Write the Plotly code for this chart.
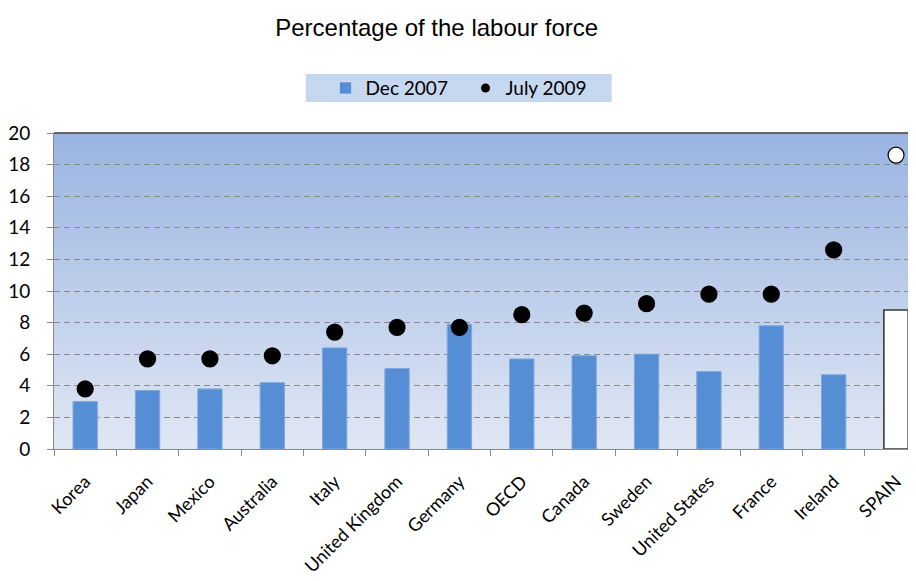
import plotly.graph_objects as go

countries = ["Korea", "Japan", "Mexico", "Australia", "Italy", "United Kingdom", "Germany",
             "OECD", "Canada", "Sweden", "United States", "France", "Ireland", "SPAIN"]
dec_2007 = [3.0, 3.7, 3.8, 4.2, 6.4, 5.1, 7.9, 5.7, 5.9, 6.0, 4.9, 7.8, 4.7, 8.8]
july_2009 = [3.8, 5.7, 5.7, 5.9, 7.4, 7.7, 7.7, 8.5, 8.6, 9.2, 9.8, 9.8, 12.6, 18.6]
y_ticks = [0, 2, 4, 6, 8, 10, 12, 14, 16, 18, 20]

BLUE = "#558ED5"
bar_colors = [BLUE] * (len(countries) - 1) + ["white"]
bar_lines = ["#7FA8DD"] * (len(countries) - 1) + ["#3a3a3a"]
bar_lw = [1] * (len(countries) - 1) + [1.6]
dot_colors = ["black"] * (len(countries) - 1) + ["white"]

fig = go.Figure()
fig.add_trace(go.Bar(x=countries, y=dec_2007, marker=dict(color=bar_colors, line=dict(color=bar_lines, width=bar_lw)),
                     showlegend=False, width=0.39))
fig.add_trace(go.Scatter(x=countries, y=july_2009, mode="markers",
                         marker=dict(color=dot_colors, size=16, line=dict(color="black", width=1.2)),
                         showlegend=False))
# legend entries
fig.add_trace(go.Bar(x=[None], y=[None], name="Dec 2007", marker=dict(color=BLUE)))
fig.add_trace(go.Scatter(x=[None], y=[None], mode="markers", name="July 2009",
                         marker=dict(color="black", size=9)))

# gradient background (stacked so no seams)
shapes = []
n = 80
top = (0x9A, 0xB4, 0xE2)
bot = (0xE0, 0xE7, 0xF4)
for i in range(n):
    t = i / (n - 1)
    c = tuple(round(top[k] + (bot[k] - top[k]) * t) for k in range(3))
    shapes.append(dict(type="rect", xref="x domain", yref="y domain", x0=0, x1=1,
                       y0=0, y1=1 - i / n, fillcolor="rgb(%d,%d,%d)" % c,
                       line=dict(width=0), layer="below"))
# top border
shapes.append(dict(type="line", xref="x domain", yref="y domain", x0=0, x1=1, y0=1, y1=1,
                   line=dict(color="#404040", width=1.5), layer="above"))
# legend box
shapes.append(dict(type="rect", xref="paper", yref="paper", x0=0.292, x1=0.647, y0=1.098, y1=1.187,
                   fillcolor="#C6D7F0", line=dict(width=0), layer="below"))

fig.update_layout(
    width=916, height=581,
    margin=dict(l=46, r=8, t=125, b=140, autoexpand=False),
    paper_bgcolor="white", plot_bgcolor="rgba(0,0,0,0)",
    title=dict(text="Percentage of the labour force", x=0.468, xanchor="center", y=0.967, yanchor="middle",
               font=dict(family="Liberation Sans, Arial", size=24, color="black")),
    shapes=shapes,
    legend=dict(orientation="h", x=0.315, xanchor="left", y=1.142, yanchor="middle",
                bgcolor="rgba(0,0,0,0)", font=dict(family="Lato", size=19, color="black"),
                itemwidth=30, entrywidth=95, tracegroupgap=0),
    font=dict(family="Lato", color="black"),
)
fig.update_xaxes(type="category", range=[-0.5, 13.32], showline=True, linecolor="#8a8a8a", linewidth=1,
                 ticks="outside", tickson="boundaries", ticklen=6, tickcolor="#8a8a8a",
                 tickangle=-45, tickfont=dict(family="Lato", size=18), ticklabelstandoff=14,
                 showgrid=False, automargin=False)
fig.update_yaxes(range=[0, 20], tickvals=y_ticks, showline=True, linecolor="#8a8a8a", linewidth=1,
                 ticks="outside", ticklen=6, tickcolor="#8a8a8a", tickfont=dict(family="Lato", size=19),
                 ticklabelstandoff=13, automargin=False,
                 showgrid=True, gridcolor="#8a8a8a", griddash="6px,4px", gridwidth=1, zeroline=False)

fig.write_html("out.html")
